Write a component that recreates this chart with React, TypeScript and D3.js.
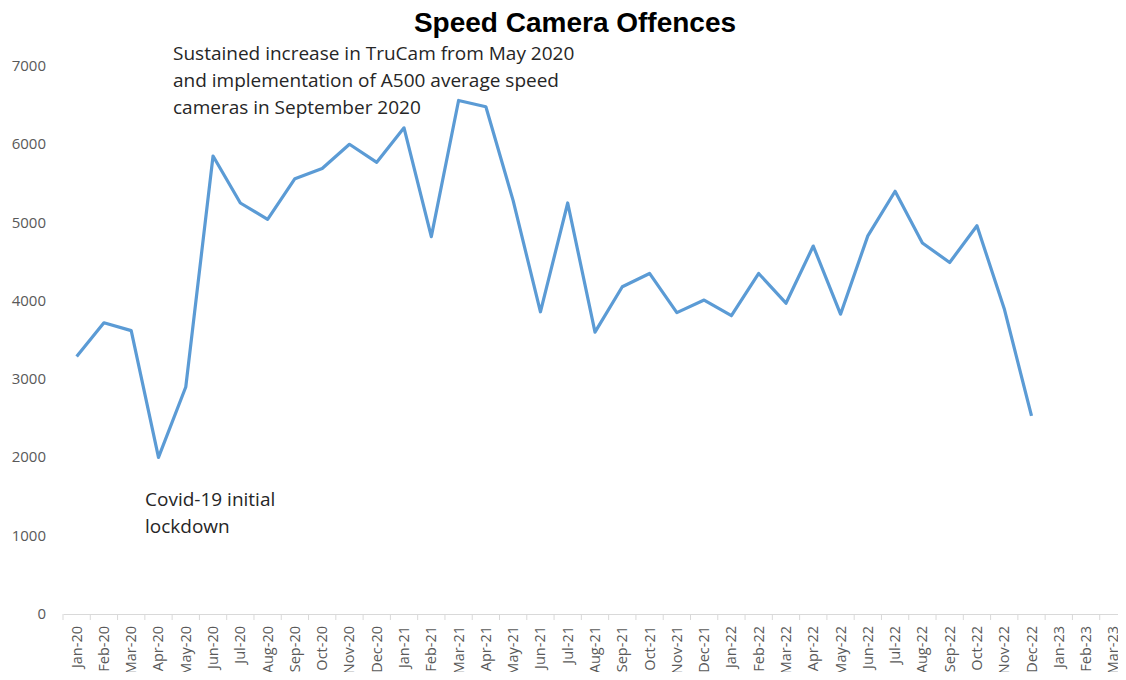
import React, { useEffect, useRef } from "react";
import * as d3 from "d3";

const months = [
  "Jan-20", "Feb-20", "Mar-20", "Apr-20", "May-20", "Jun-20", "Jul-20", "Aug-20", "Sep-20", "Oct-20", "Nov-20", "Dec-20",
  "Jan-21", "Feb-21", "Mar-21", "Apr-21", "May-21", "Jun-21", "Jul-21", "Aug-21", "Sep-21", "Oct-21", "Nov-21", "Dec-21",
  "Jan-22", "Feb-22", "Mar-22", "Apr-22", "May-22", "Jun-22", "Jul-22", "Aug-22", "Sep-22", "Oct-22", "Nov-22", "Dec-22",
  "Jan-23", "Feb-23", "Mar-23",
];

const offences: (number | null)[] = [
  3290, 3720, 3620, 2000, 2900, 5850, 5250, 5040, 5560, 5690, 6000, 5770,
  6210, 4820, 6560, 6480, 5280, 3860, 5250, 3600, 4180, 4350, 3850, 4010,
  3810, 4350, 3970, 4700, 3830, 4830, 5400, 4740, 4490, 4960, 3900, 2530,
  null, null, null,
];

const yTicks = [0, 1000, 2000, 3000, 4000, 5000, 6000, 7000];

const noteTrucam = [
  "Sustained increase in TruCam from May 2020",
  "and implementation of A500 average speed",
  "cameras in September 2020",
];
const noteCovid = ["Covid-19 initial", "lockdown"];

const W = 1126;
const H = 680;

export default function App() {
  const ref = useRef<SVGSVGElement>(null);

  useEffect(() => {
    const svg = d3.select(ref.current);
    svg.selectAll("*").remove();

    const left = 63;
    const right = 1127;
    const top = 66;
    const bottom = 614;

    const x = d3.scaleBand<string>().domain(months).range([left, right]);
    const y = d3.scaleLinear().domain([0, 7000]).range([bottom, top]);

    svg.append("text")
      .attr("x", 575).attr("y", 32)
      .attr("text-anchor", "middle")
      .attr("font-family", "Liberation Sans, Arial, sans-serif")
      .attr("font-weight", "bold")
      .attr("font-size", 28)
      .attr("fill", "#000")
      .text("Speed Camera Offences");

    // y labels
    svg.selectAll(".ylab")
      .data(yTicks)
      .enter().append("text")
      .attr("x", 46)
      .attr("y", d => y(d) + 5)
      .attr("text-anchor", "end")
      .attr("font-family", "Open Sans, sans-serif")
      .attr("font-size", 15)
      .attr("fill", "#595959")
      .text(d => d);

    // x axis
    const xAxis = d3.axisBottom(x).tickSize(0).tickFormat(() => "");
    const gx = svg.append("g").attr("transform", `translate(0,${bottom})`).call(xAxis);
    gx.select(".domain").attr("stroke", "#d9d9d9").attr("stroke-width", 1);
    gx.selectAll(".tick").remove();

    const bounds = months.map(m => x(m) as number).concat([right]);
    svg.selectAll(".xtick")
      .data(bounds)
      .enter().append("line")
      .attr("x1", d => d).attr("x2", d => d)
      .attr("y1", bottom).attr("y2", bottom + 6)
      .attr("stroke", "#d9d9d9");

    svg.selectAll(".xlab")
      .data(months)
      .enter().append("text")
      .attr("transform", m => `translate(${(x(m) as number) + x.bandwidth() / 2 + 5},${bottom + 12}) rotate(-90)`)
      .attr("text-anchor", "end")
      .attr("font-family", "Open Sans, sans-serif")
      .attr("font-size", 14.5)
      .attr("fill", "#595959")
      .text(m => m);

    const line = d3.line<number | null>()
      .defined(d => d !== null)
      .x((_, i) => (x(months[i]) as number) + x.bandwidth() / 2)
      .y(d => y(d as number));

    svg.append("path")
      .datum(offences)
      .attr("d", line)
      .attr("fill", "none")
      .attr("stroke", "#5B9BD5")
      .attr("stroke-width", 3.2)
      .attr("stroke-linejoin", "round");

    const addNote = (lines: string[], x0: number, y0: number) => {
      const t = svg.append("text")
        .attr("font-family", "Open Sans, sans-serif")
        .attr("font-size", 19)
        .attr("fill", "#262626");
      lines.forEach((l, i) => {
        t.append("tspan").attr("x", x0).attr("y", y0 + i * 27).text(l);
      });
    };
    addNote(noteTrucam, 173, 60);
    addNote(noteCovid, 145, 506);
  }, []);

  return <svg ref={ref} width={W} height={H} style={{ display: "block", margin: -8 }} />;
}
